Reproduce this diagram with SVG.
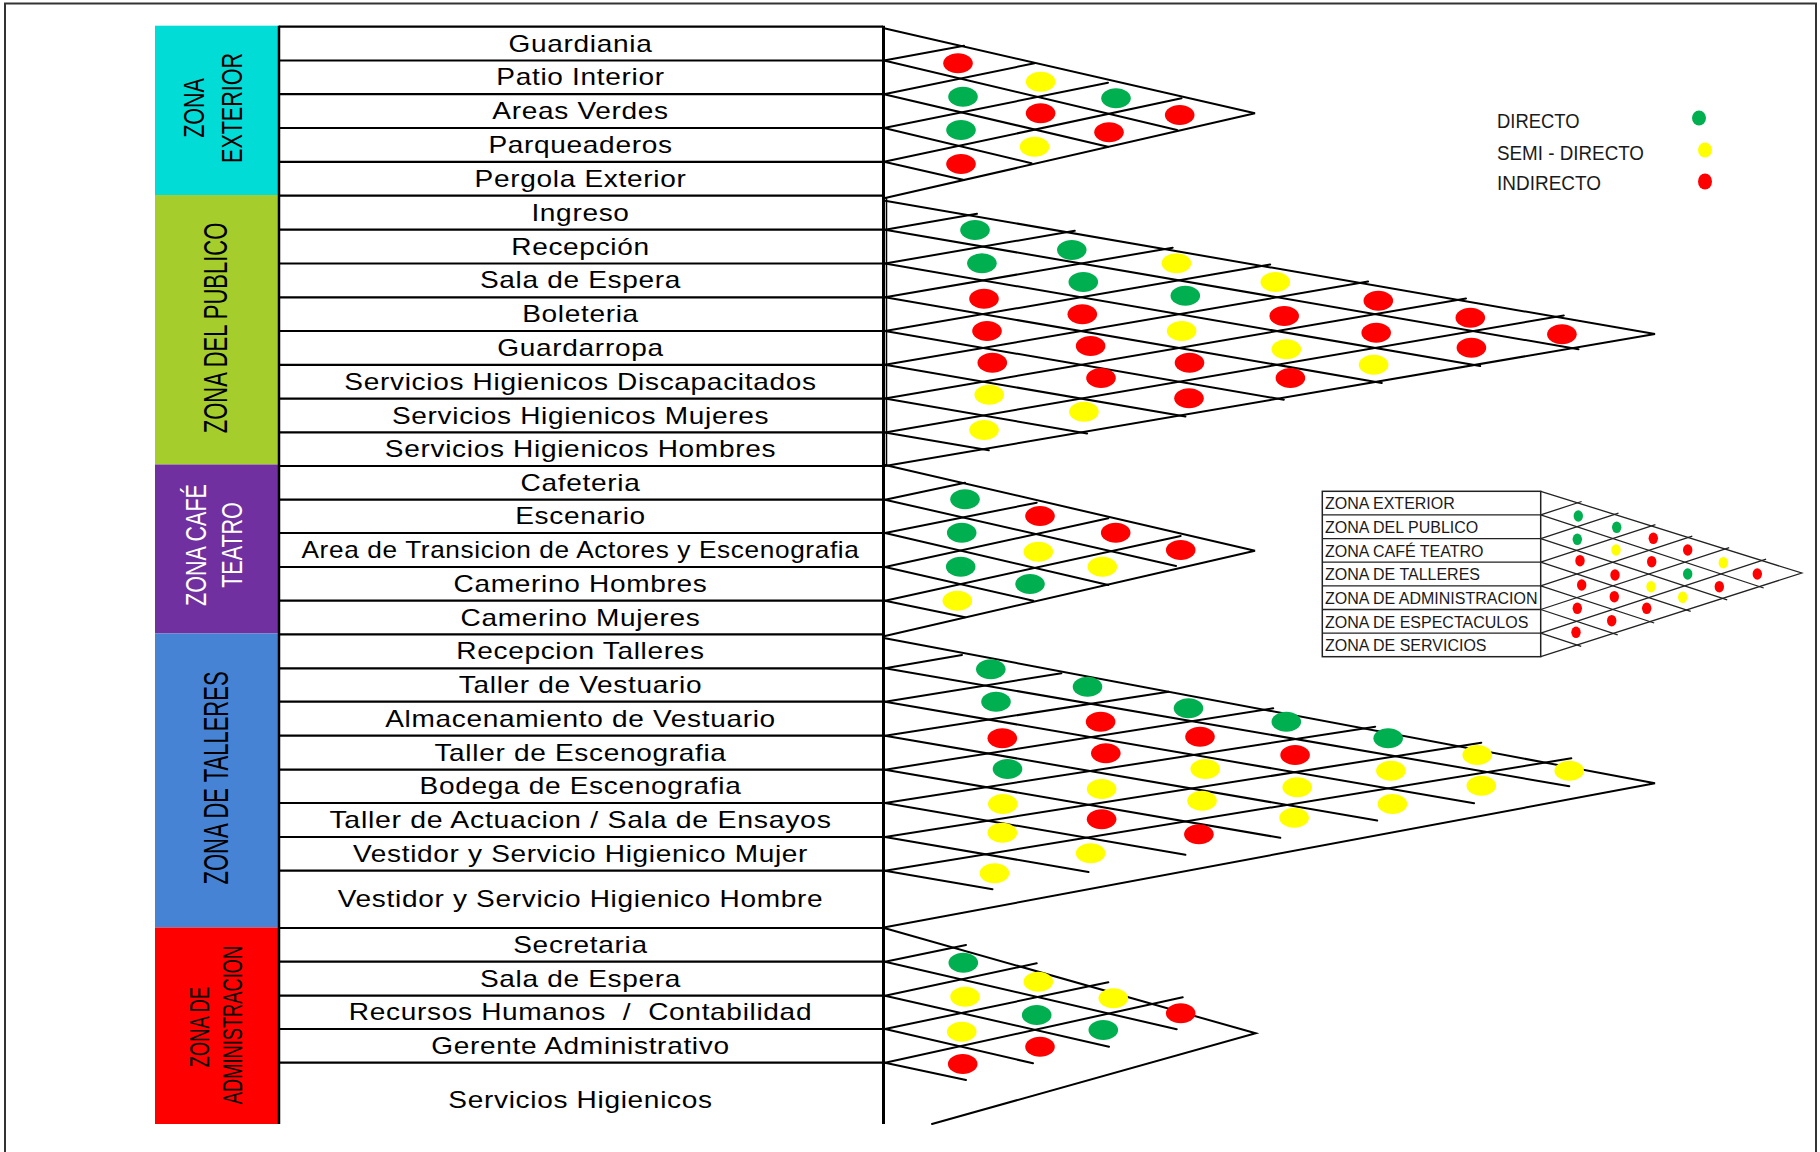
<svg xmlns="http://www.w3.org/2000/svg" width="1820" height="1152" viewBox="0 0 1820 1152">
<style>
.lbl{font-family:"Liberation Sans",Arial,sans-serif;font-size:23px;fill:#000;text-anchor:middle;letter-spacing:0.55px}
.zl{font-family:"Liberation Sans",Arial,sans-serif;fill:#000;text-anchor:middle}
.sep{stroke:#000;stroke-width:2.2;fill:none}
.mx{stroke:#000;stroke-width:2;fill:none;stroke-linecap:round}
.ins{stroke:#222;stroke-width:1.3;fill:none}
.g{fill:#00B050}.y{fill:#FFFF00}.r{fill:#FF0000}
.leg{font-family:"Liberation Sans",Arial,sans-serif;font-size:21px;fill:#1a1a1a}
.it{font-family:"Liberation Sans",Arial,sans-serif;font-size:16px;fill:#1a1a1a}
</style>
<defs>
<ellipse id="d" rx="14.8" ry="10"/>
<ellipse id="ds" rx="4.7" ry="5.8"/>
</defs>
<rect width="1820" height="1152" fill="#fff"/>
<path d="M5,1152V3.5H1816V1152" fill="none" stroke="#333" stroke-width="2"/>

<!-- zones -->
<g id="zona-exterior">
<rect x="155" y="25.7" width="124" height="169.5" fill="#02DCD6"/>
<text class="zl" font-size="21.5" transform="translate(204,108) scale(1.36,1) rotate(-90)">ZONA</text>
<text class="zl" font-size="21.5" transform="translate(242,108) scale(1.36,1) rotate(-90)">EXTERIOR</text>
</g>
<g id="zona-publico">
<rect x="155" y="195" width="124" height="269.5" fill="#A5CD2B"/>
<text class="zl" font-size="22" transform="translate(227,328) scale(1.5,1) rotate(-90)">ZONA DEL PUBLICO</text>
</g>
<g id="zona-cafe">
<rect x="155" y="464.5" width="124" height="169" fill="#7030A0"/>
<text class="zl" font-size="21.5" style="fill:#fff" transform="translate(206,545) scale(1.33,1) rotate(-90)">ZONA CAFÉ</text>
<text class="zl" font-size="21.5" style="fill:#fff" transform="translate(242,545) scale(1.33,1) rotate(-90)">TEATRO</text>
</g>
<g id="zona-talleres">
<rect x="155" y="633.5" width="124" height="294" fill="#4683D4"/>
<text class="zl" font-size="22" transform="translate(228,778) scale(1.6,1) rotate(-90)">ZONA DE TALLERES</text>
</g>
<g id="zona-administracion">
<rect x="155" y="927.5" width="124" height="196.5" fill="#FF0000"/>
<text class="zl" font-size="18.3" transform="translate(209,1027) scale(1.53,1) rotate(-90)">ZONA DE</text>
<text class="zl" font-size="18.3" transform="translate(242,1025) scale(1.53,1) rotate(-90)">ADMINISTRACION</text>
</g>

<!-- rows -->
<g id="rows">
<g id="r-guardiania"><path class="sep" d="M279,26.7H883"/><text class="lbl" transform="matrix(1.22 0 0 1 580.5 51.6)">Guardiania</text></g>
<g id="r-patio"><path class="sep" d="M279,60.5H883"/><text class="lbl" transform="matrix(1.22 0 0 1 580.5 85.4)">Patio Interior</text></g>
<g id="r-areas"><path class="sep" d="M279,94.2H883"/><text class="lbl" transform="matrix(1.22 0 0 1 580.5 119.1)">Areas Verdes</text></g>
<g id="r-parq"><path class="sep" d="M279,128H883"/><text class="lbl" transform="matrix(1.22 0 0 1 580.5 152.9)">Parqueaderos</text></g>
<g id="r-pergola"><path class="sep" d="M279,161.8H883"/><text class="lbl" transform="matrix(1.22 0 0 1 580.5 186.7)">Pergola Exterior</text></g>

<g id="r-ingreso"><path class="sep" d="M279,195.6H883"/><text class="lbl" transform="matrix(1.22 0 0 1 580.5 220.7)">Ingreso</text></g>
<g id="r-recepcion"><path class="sep" d="M279,229.7H883"/><text class="lbl" transform="matrix(1.22 0 0 1 580.5 254.6)">Recepción</text></g>
<g id="r-sala"><path class="sep" d="M279,263.5H883"/><text class="lbl" transform="matrix(1.22 0 0 1 580.5 288.4)">Sala de Espera</text></g>
<g id="r-boleteria"><path class="sep" d="M279,297.3H883"/><text class="lbl" transform="matrix(1.22 0 0 1 580.5 322.2)">Boleteria</text></g>
<g id="r-guardarropa"><path class="sep" d="M279,331H883"/><text class="lbl" transform="matrix(1.22 0 0 1 580.5 355.9)">Guardarropa</text></g>
<g id="r-sshh-disc"><path class="sep" d="M279,364.8H883"/><text class="lbl" transform="matrix(1.22 0 0 1 580.5 389.7)">Servicios Higienicos Discapacitados</text></g>
<g id="r-sshh-muj"><path class="sep" d="M279,398.6H883"/><text class="lbl" transform="matrix(1.22 0 0 1 580.5 423.5)">Servicios Higienicos Mujeres</text></g>
<g id="r-sshh-hom"><path class="sep" d="M279,432.4H883"/><text class="lbl" transform="matrix(1.22 0 0 1 580.5 457.2)">Servicios Higienicos Hombres</text></g>

<g id="r-cafeteria"><path class="sep" d="M279,466H883"/><text class="lbl" transform="matrix(1.22 0 0 1 580.5 490.9)">Cafeteria</text></g>
<g id="r-escenario"><path class="sep" d="M279,499.7H883"/><text class="lbl" transform="matrix(1.22 0 0 1 580.5 524.4)">Escenario</text></g>
<g id="r-transicion"><path class="sep" d="M279,533H883"/><text class="lbl" transform="matrix(1.14 0 0 1 580.5 558)">Area de Transicion de Actores y Escenografia</text></g>
<g id="r-cam-hom"><path class="sep" d="M279,567H883"/><text class="lbl" transform="matrix(1.22 0 0 1 580.5 591.9)">Camerino Hombres</text></g>
<g id="r-cam-muj"><path class="sep" d="M279,600.7H883"/><text class="lbl" transform="matrix(1.22 0 0 1 580.5 625.6)">Camerino Mujeres</text></g>

<g id="r-rec-talleres"><path class="sep" d="M279,634.4H883"/><text class="lbl" transform="matrix(1.22 0 0 1 580.5 659.4)">Recepcion Talleres</text></g>
<g id="r-taller-vest"><path class="sep" d="M279,668.3H883"/><text class="lbl" transform="matrix(1.22 0 0 1 580.5 693)">Taller de Vestuario</text></g>
<g id="r-alm-vest"><path class="sep" d="M279,701.7H883"/><text class="lbl" transform="matrix(1.22 0 0 1 580.5 726.7)">Almacenamiento de Vestuario</text></g>
<g id="r-taller-esc"><path class="sep" d="M279,735.7H883"/><text class="lbl" transform="matrix(1.22 0 0 1 580.5 760.7)">Taller de Escenografia</text></g>
<g id="r-bodega"><path class="sep" d="M279,769.7H883"/><text class="lbl" transform="matrix(1.22 0 0 1 580.5 794.4)">Bodega de Escenografia</text></g>
<g id="r-actuacion"><path class="sep" d="M279,803H883"/><text class="lbl" transform="matrix(1.24 0 0 1 580.5 828)">Taller de Actuacion / Sala de Ensayos</text></g>
<g id="r-vest-muj"><path class="sep" d="M279,837H883"/><text class="lbl" transform="matrix(1.22 0 0 1 580.5 861.9)">Vestidor y Servicio Higienico Mujer</text></g>
<g id="r-vest-hom"><path class="sep" d="M279,870.7H883"/><text class="lbl" transform="matrix(1.22 0 0 1 580.5 907.4)">Vestidor y Servicio Higienico Hombre</text></g>

<g id="r-secretaria"><path class="sep" d="M279,928H883"/><text class="lbl" transform="matrix(1.22 0 0 1 580.5 952.9)">Secretaria</text></g>
<g id="r-sala-adm"><path class="sep" d="M279,961.7H883"/><text class="lbl" transform="matrix(1.22 0 0 1 580.5 986.7)">Sala de Espera</text></g>
<g id="r-rrhh"><path class="sep" d="M279,995.7H883"/><text class="lbl" xml:space="preserve" transform="matrix(1.22 0 0 1 580.5 1020.4)">Recursos Humanos  /  Contabilidad</text></g>
<g id="r-gerente"><path class="sep" d="M279,1029H883"/><text class="lbl" transform="matrix(1.22 0 0 1 580.5 1053.9)">Gerente Administrativo</text></g>
<g id="r-sshh-adm"><path class="sep" d="M279,1062.7H883"/><text class="lbl" transform="matrix(1.22 0 0 1 580.5 1108)">Servicios Higienicos</text></g>
<path d="M279,25.7V1124" stroke="#000" stroke-width="2.5"/>
<path d="M883.5,25.7V1124" stroke="#000" stroke-width="3"/>
<path d="M886.5,198V466" stroke="#000" stroke-width="1.5"/>
</g>

<!-- connectors: relationship matrices -->
<g id="connectors">
<g id="m-exterior" class="mx">
<path d="M884,28.3L1255,113.3L884,198.3"/>
<path d="M884,60.5L964,45.7M884,94.2L1034.5,63.3M884,128L1108,82.7M884,161.8L1181.5,98.3"/>
<path d="M884,60.5L1177,130M884,94.2L1108,146.7M884,128L1031.5,163.3M884,161.8L964,180"/>
</g>
<g id="m-publico" class="mx">
<path d="M885,200.7L1655,334L885,466"/>
<path d="M885,229.7L977,213.8M885,263.5L1074.8,230.8M885,297.3L1172.7,247.7M885,331L1270.2,264.6M885,364.8L1368.1,281.6M885,398.6L1466,298.5M885,432.4L1563.8,315.4"/>
<path d="M885,229.7L1578.5,349.2M885,263.5L1480.2,366.1M885,297.3L1381.8,382.9M885,331L1283.8,399.7M885,364.8L1185.4,416.6M885,398.6L1087.1,433.4M885,432.4L988.8,450.3"/>
</g>
<g id="m-cafe" class="mx">
<path d="M885,465L1255,550.7L885,636"/>
<path d="M885,499.7L965,482.7M885,533L1036.7,502.7M885,567L1108.3,518.3M885,600.7L1180.7,536"/>
<path d="M885,499.7L1176,566M885,533L1108.3,585M885,567L1033.3,600.7M885,600.7L965,617.3"/>
</g>
<g id="m-talleres" class="mx">
<path d="M885,638.3L1655,783.3L885,927.3"/>
<path d="M885,668.3L962,655M885,701.7L1061.4,673.3M885,735.7L1168.6,691.7M885,769.7L1273.2,708.3M885,803L1375.2,726.7M885,837L1481.3,742.7M885,870.7L1571.3,758.3"/>
<path d="M885,668.3L1569.3,786.2M885,701.7L1474.1,803.2M885,735.7L1377.2,820.5M885,769.7L1280.3,837.8M885,803L1185.4,854.8M885,837L1088.5,872M885,870.7L992.5,889.2"/>
</g>
<g id="m-admin" class="mx">
<path d="M885,928.3L1255.7,1033.3L932,1124"/>
<path d="M885,961.7L966,945M885,995.7L1036.7,963.3M885,1029L1108.3,982.3M885,1062.7L1182.7,997.3"/>
<path d="M885,961.7L1176.7,1029.3M885,995.7L1109,1046.7M885,1029L1033,1063.3M885,1062.7L966,1080"/>
</g>
</g>

<!-- relationship marks -->
<g id="marks-exterior">
<use href="#d" class="r" x="958" y="63.3"/><use href="#d" class="y" x="1040.6" y="81.7"/><use href="#d" class="g" x="963" y="96.7"/><use href="#d" class="g" x="1116" y="98.3"/><use href="#d" class="r" x="1040.6" y="113.3"/><use href="#d" class="r" x="1179.7" y="115"/><use href="#d" class="g" x="961" y="130"/><use href="#d" class="r" x="1109" y="132.3"/><use href="#d" class="y" x="1034.5" y="146.7"/><use href="#d" class="r" x="961" y="164"/>
</g>
<g id="marks-publico">
<use href="#d" class="g" x="975" y="230"/><use href="#d" class="g" x="1071.8" y="250"/><use href="#d" class="g" x="981.9" y="263.3"/><use href="#d" class="y" x="1176.4" y="263.3"/><use href="#d" class="g" x="1083.3" y="282"/><use href="#d" class="y" x="1275.3" y="282"/><use href="#d" class="r" x="984" y="298.7"/><use href="#d" class="g" x="1185.3" y="295.7"/><use href="#d" class="r" x="1378.3" y="300.7"/><use href="#d" class="r" x="1082.3" y="314.3"/><use href="#d" class="r" x="1284.2" y="316"/><use href="#d" class="r" x="1470.3" y="317.7"/><use href="#d" class="r" x="987" y="331"/><use href="#d" class="y" x="1181.6" y="331"/><use href="#d" class="r" x="1376.2" y="332.7"/><use href="#d" class="r" x="1561.9" y="334.3"/><use href="#d" class="r" x="1090.6" y="346"/><use href="#d" class="y" x="1286.3" y="349.3"/><use href="#d" class="r" x="1471.4" y="347.7"/><use href="#d" class="r" x="992.3" y="362.7"/><use href="#d" class="r" x="1189.5" y="362.7"/><use href="#d" class="y" x="1373.6" y="364.7"/><use href="#d" class="r" x="1101" y="378"/><use href="#d" class="r" x="1290.4" y="378"/><use href="#d" class="y" x="989.2" y="394.7"/><use href="#d" class="r" x="1189" y="398.3"/><use href="#d" class="y" x="1083.9" y="411.7"/><use href="#d" class="y" x="984" y="430"/>
</g>
<g id="marks-cafe">
<use href="#d" class="g" x="965" y="499.3"/><use href="#d" class="r" x="1040" y="516"/><use href="#d" class="g" x="961.7" y="532.7"/><use href="#d" class="r" x="1115.7" y="532.7"/><use href="#d" class="y" x="1038.3" y="551.7"/><use href="#d" class="r" x="1180.7" y="550"/><use href="#d" class="g" x="960.7" y="566.7"/><use href="#d" class="y" x="1102.3" y="566.7"/><use href="#d" class="g" x="1030" y="584"/><use href="#d" class="y" x="957.3" y="600.7"/>
</g>
<g id="marks-talleres">
<use href="#d" class="g" x="990.8" y="669.3"/><use href="#d" class="g" x="1087.5" y="686.7"/><use href="#d" class="g" x="996" y="701.7"/><use href="#d" class="g" x="1188.5" y="708.3"/><use href="#d" class="r" x="1100.6" y="721.7"/><use href="#d" class="g" x="1286.3" y="721.7"/><use href="#d" class="r" x="1002.3" y="738.3"/><use href="#d" class="r" x="1200" y="736.7"/><use href="#d" class="g" x="1388.2" y="738.3"/><use href="#d" class="r" x="1105.8" y="753.3"/><use href="#d" class="r" x="1295.1" y="755"/><use href="#d" class="y" x="1477.2" y="755"/><use href="#d" class="g" x="1007.5" y="769"/><use href="#d" class="y" x="1205.2" y="769"/><use href="#d" class="y" x="1390.9" y="770.7"/><use href="#d" class="y" x="1569.2" y="770.7"/><use href="#d" class="y" x="1101.6" y="789"/><use href="#d" class="y" x="1297.2" y="787.3"/><use href="#d" class="y" x="1481.3" y="785.7"/><use href="#d" class="y" x="1002.8" y="804"/><use href="#d" class="y" x="1202" y="800.7"/><use href="#d" class="y" x="1392.4" y="804"/><use href="#d" class="r" x="1101.6" y="819.3"/><use href="#d" class="y" x="1294.1" y="817.7"/><use href="#d" class="y" x="1002.3" y="832.7"/><use href="#d" class="r" x="1198.9" y="834.3"/><use href="#d" class="y" x="1090.6" y="853.3"/><use href="#d" class="y" x="994.4" y="873.3"/>
</g>
<g id="marks-admin">
<use href="#d" class="g" x="963.3" y="962.7"/><use href="#d" class="y" x="1038.3" y="981.7"/><use href="#d" class="y" x="965" y="996.7"/><use href="#d" class="y" x="1113.3" y="998.3"/><use href="#d" class="g" x="1036.7" y="1015"/><use href="#d" class="r" x="1180.7" y="1013.3"/><use href="#d" class="y" x="961.7" y="1031.7"/><use href="#d" class="g" x="1103.3" y="1030"/><use href="#d" class="r" x="1040" y="1046.7"/><use href="#d" class="r" x="962.7" y="1064"/>
</g>

<!-- legend -->
<g id="legend">
<text class="leg" x="1497" y="128.3" textLength="82.5" lengthAdjust="spacingAndGlyphs">DIRECTO</text>
<text class="leg" x="1497" y="159.5" textLength="147" lengthAdjust="spacingAndGlyphs">SEMI - DIRECTO</text>
<text class="leg" x="1497" y="190" textLength="104" lengthAdjust="spacingAndGlyphs">INDIRECTO</text>
<ellipse class="g" cx="1699" cy="118" rx="7" ry="7.5"/>
<ellipse class="y" cx="1705" cy="150" rx="7" ry="7.5"/>
<ellipse class="r" cx="1705" cy="181.5" rx="7" ry="8"/>
</g>

<!-- inset: zone matrix -->
<g id="inset">
<g id="inset-table">
<rect x="1322.3" y="491.3" width="218.4" height="165.4" fill="#fff" stroke="#222" stroke-width="1.5"/>
<path d="M1322.3,514.9H1540.7M1322.3,538.6H1540.7M1322.3,562.2H1540.7M1322.3,585.8H1540.7M1322.3,609.5H1540.7M1322.3,633.1H1540.7" stroke="#222" stroke-width="1.3"/>
<text class="it" x="1325" y="509.3">ZONA EXTERIOR</text>
<text class="it" x="1325" y="532.9">ZONA DEL PUBLICO</text>
<text class="it" x="1325" y="556.6">ZONA CAFÉ TEATRO</text>
<text class="it" x="1325" y="580.2">ZONA DE TALLERES</text>
<text class="it" x="1325" y="603.8">ZONA DE ADMINISTRACION</text>
<text class="it" x="1325" y="627.5">ZONA DE ESPECTACULOS</text>
<text class="it" x="1325" y="651.1">ZONA DE SERVICIOS</text>
</g>
<g id="inset-matrix" class="ins">
<path d="M1540.7,491.3L1801.7,573L1540.7,656.7"/>
<path d="M1540.7,514.9L1581.6,501.5M1540.7,538.6L1618.5,513.1M1540.7,562.2L1655.4,524.6M1540.7,585.8L1692.3,536.1M1540.7,609.5L1729.2,547.7M1540.7,633.1L1766.1,559.2"/>
<path d="M1540.7,514.9L1763.7,588M1540.7,538.6L1727.2,599.8M1540.7,562.2L1690.7,611.4M1540.7,585.8L1654.2,623M1540.7,609.5L1617.7,634.8M1540.7,633.1L1581.2,646.4"/>
</g>
<g id="inset-marks">
<use href="#ds" class="g" x="1578.3" y="516"/><use href="#ds" class="g" x="1616.7" y="527.3"/><use href="#ds" class="g" x="1577.3" y="539.3"/><use href="#ds" class="r" x="1653.3" y="538.3"/><use href="#ds" class="y" x="1616" y="550"/><use href="#ds" class="r" x="1687.7" y="550"/><use href="#ds" class="r" x="1580" y="560.7"/><use href="#ds" class="r" x="1651.7" y="561.7"/><use href="#ds" class="y" x="1723.3" y="562.7"/><use href="#ds" class="r" x="1615" y="575"/><use href="#ds" class="g" x="1687.7" y="574"/><use href="#ds" class="r" x="1757.3" y="574"/><use href="#ds" class="r" x="1581.7" y="585"/><use href="#ds" class="y" x="1651" y="586.7"/><use href="#ds" class="r" x="1719.3" y="586.7"/><use href="#ds" class="r" x="1614.3" y="596.7"/><use href="#ds" class="y" x="1682.7" y="597.3"/><use href="#ds" class="r" x="1577.3" y="608.3"/><use href="#ds" class="r" x="1646.7" y="608.3"/><use href="#ds" class="r" x="1611.7" y="620.7"/><use href="#ds" class="r" x="1576" y="632.3"/>
</g>
</g>
</svg>
